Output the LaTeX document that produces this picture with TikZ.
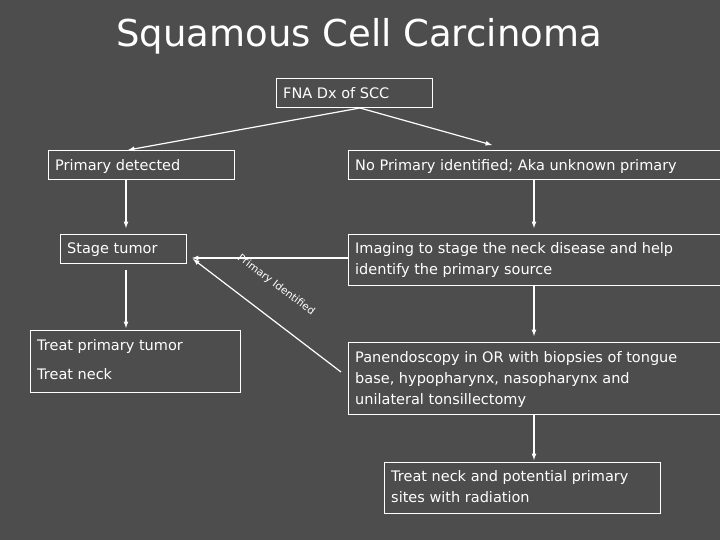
\documentclass[tikz,border=0pt]{standalone}
\usepackage{fontspec}
\setmainfont{DejaVu Sans}
\definecolor{bg}{HTML}{4D4D4D}
\begin{document}
\begin{tikzpicture}[x=1pt,y=-1pt,
  bx/.style={draw=white,line width=0.8pt},
  tx/.style={text=white,font=\fontsize{14.5}{21}\selectfont,anchor=north west,inner sep=0pt,align=left},
  ar/.style={draw=white,line width=1.2pt,-latex}]
\fill[bg] (0,0) rectangle (720,540);
\useasboundingbox (0,0) rectangle (720,540);
\node[text=white,font=\fontsize{37}{40}\selectfont] (title) at (359,36) {Squamous Cell Carcinoma};
\draw[bx] (276,78) rectangle (432,107);
\node[tx] (fna) at (283,87) {FNA Dx of SCC};
\draw[bx] (48,150) rectangle (234,179);
\node[tx] (pd) at (55,159) {Primary detected};
\draw[bx] (348,150) rectangle (721,179);
\node[tx] (np) at (355,159) {No Primary identified; Aka unknown primary};
\draw[bx] (60,234) rectangle (186,263);
\node[tx] (st) at (67,243) {Stage tumor};
\draw[bx] (348,234) rectangle (721,285);
\node[tx] (im) at (355,242) {Imaging to stage the neck disease and help\\identify the primary source};
\draw[bx] (30,330) rectangle (240,392);
\node[tx] (tp) at (37,339) {Treat primary tumor\\[8pt]Treat neck};
\draw[bx] (348,342) rectangle (721,414);
\node[tx] (pe) at (355,351) {Panendoscopy in OR with biopsies of tongue\\base, hypopharynx, nasopharynx and\\unilateral tonsillectomy};
\draw[bx] (384,462) rectangle (660,513);
\node[tx] (tr) at (391,470) {Treat neck and potential primary\\sites with radiation};
\coordinate (f0) at (360,108);
\draw[ar] (f0) -- (128,150);
\draw[ar] (f0) -- (492,145);
\draw[ar] (126,180) -- (126,228);
\draw[ar] (126,270) -- (126,328);
\draw[ar] (348,258) -- (192,258);
\draw[ar] (341,372) -- (193,259);
\node[text=white,font=\fontsize{10.5}{11}\selectfont,rotate=-37] (lab) at (276,285) {Primary Identified};
\draw[ar] (534,180) -- (534,228);
\draw[ar] (534,286) -- (534,336);
\draw[ar] (534,415) -- (534,460);
\end{tikzpicture}
\end{document}
